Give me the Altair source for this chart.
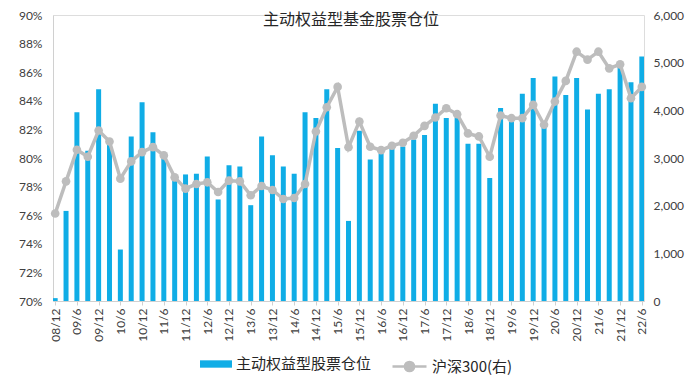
import altair as alt
import pandas as pd

quarters = [
    "08/12", "09/3", "09/6", "09/9", "09/12", "10/3", "10/6", "10/9", "10/12",
    "11/3", "11/6", "11/9", "11/12", "12/3", "12/6", "12/9", "12/12",
    "13/3", "13/6", "13/9", "13/12", "14/3", "14/6", "14/9", "14/12",
    "15/3", "15/6", "15/9", "15/12", "16/3", "16/6", "16/9", "16/12",
    "17/3", "17/6", "17/9", "17/12", "18/3", "18/6", "18/9", "18/12",
    "19/3", "19/6", "19/9", "19/12", "20/3", "20/6", "20/9", "20/12",
    "21/3", "21/6", "21/9", "21/12", "22/3", "22/6",
]

# 主动权益型股票仓位 (%)
position = [
    70.2, 76.3, 83.2, 80.5, 84.8, 81.0, 73.6, 81.5, 83.9,
    81.8, 80.0, 78.5, 78.85, 78.9, 80.1, 77.1, 79.5,
    79.4, 76.7, 81.5, 80.2, 79.4, 78.9, 83.2, 82.8,
    84.8, 80.7, 75.6, 81.9, 79.9, 80.3, 80.7, 80.8,
    81.3, 81.6, 83.8, 82.8, 82.8, 81.0, 81.0, 78.6,
    83.5, 82.9, 84.5, 85.6, 82.2, 85.7, 84.4, 85.6,
    83.4, 84.5, 84.8, 86.4, 85.3, 87.1,
]

# 沪深300 (右轴)
csi300 = [
    1835, 2510, 3173, 3027, 3577, 3347, 2567, 2929, 3124,
    3228, 3054, 2594, 2357, 2454, 2490, 2287, 2525,
    2510, 2218, 2412, 2329, 2140, 2161, 2454, 3556,
    4065, 4491, 3228, 3766, 3236, 3166, 3257, 3320,
    3466, 3675, 3849, 4044, 3919, 3515, 3452, 3027,
    3891, 3835, 3835, 4115, 3697, 4184, 4617, 5230,
    5063, 5230, 4881, 4965, 4254, 4491,
]

tick_labels = quarters[::2]
left_ticks = [70, 72, 74, 76, 78, 80, 82, 84, 86, 88, 90]
right_ticks = [0, 1000, 2000, 3000, 4000, 5000, 6000]

title_text = "主动权益型基金股票仓位"
bar_name = "主动权益型股票仓位"
line_name = "沪深300(右)"
BLUE = "#10ADE6"
GRAY = "#BDBDBD"
NUM_FONT = "Lato"
CJK_FONT = "Noto Sans CJK SC"

df = pd.DataFrame({
    "q": quarters,
    "pos": position,
    "csi": csi300,
    "s1": bar_name,
    "s2": line_name,
})

x_enc = alt.X(
    "q:O",
    sort=quarters,
    scale=alt.Scale(type="point", padding=0.2),
    axis=alt.Axis(
        values=tick_labels, labelAngle=-90, title=None,
        labelFont=NUM_FONT, labelFontSize=12, labelColor="#404040",
        domainColor="#D0D0D0", tickColor="#D0D0D0", tickSize=4, labelPadding=3,
    ),
)

bars = alt.Chart(df).mark_bar(width=5, clip=True).encode(
    x=x_enc,
    y=alt.Y(
        "pos:Q",
        scale=alt.Scale(domain=[70, 90], zero=False, nice=False),
        axis=alt.Axis(
            values=left_ticks, labelExpr="datum.value + '%'", title=None,
            labelFont=NUM_FONT, labelFontSize=12, labelColor="#404040",
            domainColor="#D0D0D0", tickColor="#D0D0D0", tickSize=0, labelPadding=11,
            grid=False,
        ),
    ),
    y2=alt.datum(70),
    color=alt.Color(
        "s1:N",
        scale=alt.Scale(range=[BLUE]),
        legend=alt.Legend(
            orient="none", legendX=147, legendY=333, title=None,
            symbolType="M-1,-0.23L1,-0.23L1,0.23L-1,0.23Z", symbolSize=1024,
            symbolStrokeWidth=0, labelFont=CJK_FONT, labelFontSize=15,
            labelColor="#262626", labelOffset=4,
        ),
    ),
)

line = alt.Chart(df).mark_line(
    strokeWidth=3.5,
    point=alt.OverlayMarkDef(filled=True, size=75, color=GRAY),
).encode(
    x=x_enc,
    y=alt.Y(
        "csi:Q",
        scale=alt.Scale(domain=[0, 6000], nice=False),
        axis=alt.Axis(
            orient="right", values=right_ticks,
            labelExpr="format(datum.value, ',')", title=None,
            labelFont=NUM_FONT, labelFontSize=12, labelColor="#404040",
            domain=False, ticks=False, labelPadding=9, grid=False,
        ),
    ),
    color=alt.Color(
        "s2:N",
        scale=alt.Scale(range=[GRAY]),
        legend=alt.Legend(
            orient="none", legendX=338, legendY=333, title=None,
            symbolType="M-1,0L1,0M0.27,0A0.27,0.27,0,1,1,-0.27,0A0.27,0.27,0,1,1,0.27,0",
            symbolSize=1156, symbolStrokeWidth=2.5, symbolFillColor=GRAY,
            symbolStrokeColor=GRAY,
            labelFont=CJK_FONT, labelFontSize=15, labelColor="#262626", labelOffset=4,
        ),
    ),
)

title = alt.Chart(pd.DataFrame({"t": [title_text]})).mark_text(
    font=CJK_FONT, fontSize=16, color="#262626", baseline="middle", align="center",
).encode(
    text="t:N",
    x=alt.value(298),
    y=alt.value(5),
)

chart = alt.layer(bars, line, title).resolve_scale(
    y="independent", color="independent"
).properties(
    width=591,
    height=286,
    padding={"left": 45, "top": 7, "right": 46, "bottom": 74},
    autosize=alt.AutoSizeParams(type="none"),
).configure_view(stroke=None).configure(background="white")

chart.save("out.html", embed_options={"renderer": "svg", "actions": False})
